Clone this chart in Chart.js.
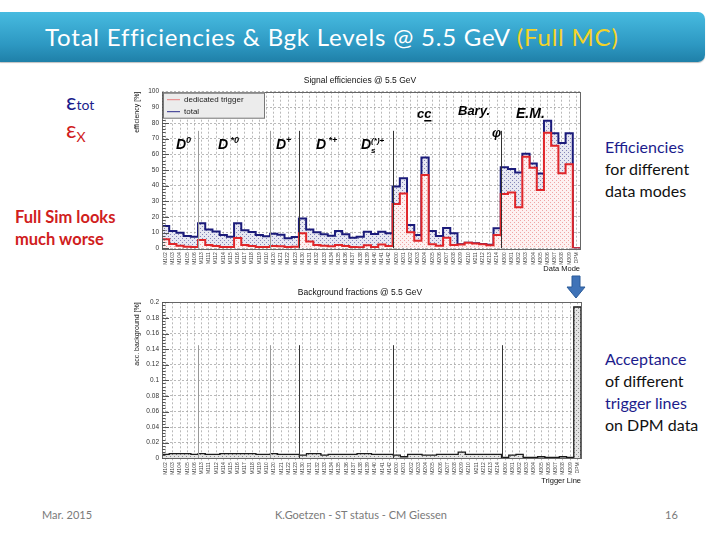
<!DOCTYPE html>
<html><head><meta charset="utf-8">
<script src="https://cdn.jsdelivr.net/npm/chart.js@4.4.0/dist/chart.umd.min.js"></script>
<style>
html,body{margin:0;padding:0;background:#fff;width:720px;height:540px;overflow:hidden;font-family:Lato,"Open Sans",sans-serif;}
.a{position:absolute;white-space:nowrap;}
#bar{left:0;top:12px;width:705px;height:50px;background:linear-gradient(#47bbe0,#2d98c2 65%,#1f80a8);border-radius:0 7px 7px 0;box-shadow:0 1px 1px rgba(0,0,0,0.25);}
#bar .t{position:absolute;left:45px;top:0;line-height:50px;font-size:24px;letter-spacing:0.8px;color:#fff;}
.navy{color:#1c1c8c;}
.red{color:#d0201c;}
.blk{color:#111;}
.side{font-size:16px;line-height:22px;}
.foot{font-size:11px;color:#7a7a7a;top:508px;}
canvas{position:absolute;}
</style></head>
<body>
<div id="bar" class="a"><span class="t">Total Efficiencies &amp; Bgk Levels @ 5.5 GeV <span style="color:#f5d327">(Full MC)</span></span></div>

<div class="a navy" style="left:66px;top:88px;font-size:23px;line-height:26px;">ε<span style="font-size:14px;">tot</span></div>
<div class="a red" style="left:66px;top:116px;font-size:23px;line-height:26px;">ε<span style="font-size:14px;position:relative;top:4px;">X</span></div>
<div class="a red" style="left:15px;top:206px;font-size:16.5px;line-height:22px;font-weight:bold;">Full Sim looks<br>much worse</div>

<div class="a side" style="left:605px;top:136px;"><span class="navy">Efficiencies</span><br><span class="blk">for different</span><br><span class="blk">data modes</span></div>
<div class="a side" style="left:605px;top:348px;"><span class="navy">Acceptance</span><br><span class="blk">of different</span><br><span class="navy">trigger lines</span><br><span class="blk">on DPM data</span></div>

<div class="a foot" style="left:42px;">Mar. 2015</div>
<div class="a foot" style="left:275px;">K.Goetzen - ST status - CM Giessen</div>
<div class="a foot" style="left:665px;">16</div>

<canvas id="c1" width="460" height="210" style="left:130px;top:70px"></canvas>
<canvas id="c2" width="460" height="210" style="left:130px;top:280px"></canvas>

<svg class="a" style="left:566px;top:275px;z-index:5" width="20" height="24" viewBox="0 0 20 24">
<path d="M6 1 H14 V12 H19 L10 23 L1 12 H6 Z" fill="#3f73b8" stroke="#2a5a98" stroke-width="1"/>
</svg>

<script>
// ---------- data ----------
const binLabels = ["M102","M103","M104","M105","M106",
"M113","M111","M112","M114","M115","M116","M117","M118","M119","M110",
"M120","M121","M122","M123",
"M130","M131","M132","M133","M134","M135","M136","M137","M138","M139","M140","M141","M142",
"M200","M201","M202","M203","M204","M205","M206","M207","M208","M209","M210","M211","M212","M213","M214",
"M300","M301","M302","M303","M304","M305","M306","M307","M308","M309","DPM"];

const sectionStarts = [5, 15, 19, 32, 47];

const totalEff = [14.3, 11, 10, 7.8, 7.4,
  16, 12, 10.8, 8.5, 7.4, 16, 11.5, 10.4, 8.5, 7.7,
  9.3, 8.7, 6.4, 7.2,
  19, 12, 10.2, 9, 8, 11, 9, 6.8, 7.4, 10.6, 9.2, 10.6, 9.6,
  39.4, 44.7, 14.9, 8.5, 58, 11, 7.9, 13, 9.6, 2.6, 3.6, 3.2, 2.8, 2.3, 12.8,
  51.7, 50.6, 48.4, 60.4, 54.2, 47.7, 81.4, 73.4, 67.2, 73.4, 0];

const triggerEff = [5.7, 2.8, 1.7, 1.0, 0.8,
  5.3, 2.1, 1.5, 0.9, 0.9, 6.5, 2.1, 1.5, 0.9, 0.9,
  1.5, 1.3, 0.9, 1.0,
  9.6, 4.3, 2.1, 1.7, 1.3, 2.1, 1.5, 0.9, 0.6, 1.9, 0.9, 2.5, 1.5,
  28.3, 35, 10.2, 4.9, 46.8, 2.6, 1.7, 6.8, 2.1, 2.5, 3.5, 3.0, 2.6, 2.0, 8.5,
  34.7, 35.7, 26.2, 58.5, 51.5, 37.2, 73.8, 65.5, 48, 53.6, 0];

const bkgFrac = [0.005, 0.006, 0.006, 0.006, 0.005,
  0.006, 0.005, 0.005, 0.006, 0.006, 0.006, 0.006, 0.006, 0.005, 0.005,
  0.006, 0.005, 0.005, 0.005,
  0.004, 0.006, 0.006, 0.004, 0.005, 0.005, 0.005, 0.005, 0.006, 0.006, 0.005, 0.005, 0.005,
  0.004, 0.002, 0.005, 0.005, 0.004, 0.004, 0.005, 0.005, 0.005, 0.008, 0.005, 0.005, 0.005, 0.005, 0.005,
  0.001, 0.004, 0.005, 0.001, 0.001, 0.002, 0.001, 0.001, 0.002, 0.001, 0.194];

// ---------- helpers ----------
function stepPoints(vals){
  const pts=[{x:0,y:0}];
  vals.forEach((v,i)=>pts.push({x:i,y:v}));
  pts.push({x:vals.length,y:vals[vals.length-1]});
  pts.push({x:vals.length,y:0});
  return pts;
}
function pattern(bg, dot){
  const c=document.createElement('canvas'); c.width=4; c.height=4;
  const g=c.getContext('2d'); g.fillStyle=bg; g.fillRect(0,0,4,4);
  g.fillStyle=dot; g.fillRect(0,0,1,1); g.fillRect(2,2,1,1);
  return g.createPattern(c,'repeat');
}
const ROOTFONT = '"Liberation Sans", Arial, sans-serif';

function drawRich(ctx, x, y, parts){
  let cx=x;
  parts.forEach(p=>{
    ctx.font = 'italic bold '+p[1]+'px '+ROOTFONT;
    ctx.fillText(p[0], cx, y+(p[2]||0));
    const w = ctx.measureText(p[0]).width;
    if(p[3]){ ctx.fillRect(cx, y+2, w, 1.5); }
    cx += (p[4]===false)?0:w;
  });
}

const decor = {
  id:'decor',
  afterDatasetsDraw(chart, args, o){
    const {ctx, chartArea:a, scales:{x,y}} = chart;
    ctx.save();
    sectionStarts.forEach((b,i)=>{
      const px = Math.round(x.getPixelForValue(b))+0.5;
      ctx.strokeStyle = i<2 ? '#9a9a9a' : '#333';
      ctx.lineWidth = 1;
      ctx.beginPath(); ctx.moveTo(px, y.getPixelForValue(0)); ctx.lineTo(px, y.getPixelForValue(o.sepTop)); ctx.stroke();
    });
    ctx.strokeStyle='#666'; ctx.lineWidth=1;
    ctx.strokeRect(Math.round(a.left)+0.5, Math.round(a.top)+0.5, Math.round(a.right-a.left), Math.round(a.bottom-a.top));
    ctx.strokeStyle='#555';
    const steps = Math.round((y.max-y.min)/o.minor);
    for(let k=0;k<=steps;k++){
      const v = y.min + k*o.minor;
      const py = Math.round(y.getPixelForValue(v))+0.5;
      const major = k % o.perMajor === 0;
      ctx.beginPath(); ctx.moveTo(a.left, py); ctx.lineTo(a.left + (major?7:3.5), py); ctx.stroke();
    }
    ctx.fillStyle='#111';
    ctx.font = '8.5px '+ROOTFONT; ctx.textAlign='center'; ctx.textBaseline='alphabetic';
    ctx.fillText(o.title, o.titleX, o.titleY);
    ctx.font = '7.5px '+ROOTFONT; ctx.textAlign='right';
    ctx.fillText(o.xTitle, a.right, o.xTitleY);
    ctx.save(); ctx.translate(o.yTitleX, a.top); ctx.rotate(-Math.PI/2);
    ctx.textAlign='right'; ctx.font='7px '+ROOTFONT; ctx.fillText(o.yTitle, 0, 0); ctx.restore();
    if(o.legend){
      ctx.fillStyle='#ececec'; ctx.fillRect(a.left+1, a.top+1, 102, 26);
      ctx.strokeStyle='#777'; ctx.strokeRect(a.left+1.5, a.top+1.5, 101, 25);
      const ds = chart.data.datasets;
      [[ds[0],8],[ds[1],20]].forEach(([d,dy])=>{
        ctx.strokeStyle=d.legendColor; ctx.lineWidth=1;
        ctx.beginPath(); ctx.moveTo(a.left+5, a.top+dy); ctx.lineTo(a.left+18, a.top+dy); ctx.stroke();
        ctx.fillStyle='#222'; ctx.font='8px '+ROOTFONT; ctx.textAlign='left'; ctx.textBaseline='middle';
        ctx.fillText(d.label, a.left+22, a.top+dy);
      });
      ctx.textBaseline='alphabetic';
    }
    if(o.annotate){
      ctx.fillStyle='#000'; ctx.textAlign='left';
      drawRich(ctx, 46, 79, [['D',14],['0',9,-6]]);
      drawRich(ctx, 88, 79, [['D',14],[' *0',9,-6]]);
      drawRich(ctx, 146, 79, [['D',14],['+',9,-6]]);
      drawRich(ctx, 186, 79, [['D',14],[' *+',9,-6]]);
      drawRich(ctx, 231, 79, [['D',14],['s',8,4,false,false],['(*)+',8,-6]]);
      drawRich(ctx, 287, 48, [['c',13],['c',13,0,true]]);
      drawRich(ctx, 328, 45, [['Bary.',13]]);
      drawRich(ctx, 362, 67, [['φ',13]]);
      drawRich(ctx, 386, 48, [['E.M.',14]]);
    }
    ctx.restore();
  }
};

function makeChart(id, datasets, yMin, yMax, yStep, padTop, padRight, opts){
  return new Chart(document.getElementById(id), {
    type:'line',
    data:{datasets},
    options:{
      responsive:false, animation:false, devicePixelRatio:1,
      layout:{padding:{top:padTop,right:padRight,left:0,bottom:0}},
      elements:{point:{radius:0}, line:{tension:0}},
      plugins:{legend:{display:false}, tooltip:{enabled:false}, decor:opts},
      scales:{
        x:{type:'linear', min:0, max:binLabels.length,
          afterBuildTicks:s=>{ s.ticks = binLabels.map((_,i)=>({value:i+0.5})); },
          afterFit:s=>{ s.height = 31.7; },
          ticks:{autoSkip:false, minRotation:90, maxRotation:90, padding:2,
            font:{size:5, family:ROOTFONT}, color:'#444',
            callback:(v,i)=>binLabels[i]},
          grid:{color:'#9c9c9c', lineWidth:0.7, tickLength:2, drawOnChartArea:true},
          border:{display:false, dash:[2,2]}
        },
        y:{min:yMin, max:yMax,
          afterFit:s=>{ s.width = 32; },
          ticks:{stepSize:yStep, padding:3, font:{size:6.5, family:ROOTFONT}, color:'#333',
            callback:v=>String(+v.toFixed(3))},
          grid:{color:'#9c9c9c', lineWidth:0.7, tickLength:0},
          border:{display:false, dash:[2,2]}
        }
      }
    },
    plugins:[decor]
  });
}

makeChart('c1', [
  {label:'dedicated trigger', data:stepPoints(triggerEff), stepped:'before',
   borderColor:'#e0262a', borderWidth:2, fill:'origin', legendColor:'#e88080',
   backgroundColor:pattern('#fdf1f1','#f0a4a4')},
  {label:'total', data:stepPoints(totalEff), stepped:'before',
   borderColor:'#1b1b7a', borderWidth:2, fill:'origin', legendColor:'#2a2a8a',
   backgroundColor:pattern('#e7e8f2','#8585b8')}
], 0, 100, 10, 21.7, 10, {
  title:'Signal efficiencies @ 5.5 GeV', titleX:230, titleY:13,
  xTitle:'Data Mode', xTitleY:201, yTitle:'efficiency [%]', yTitleX:9,
  sepTop:75, minor:2, perMajor:5, legend:true, annotate:true
});

makeChart('c2', [
  {label:'background', data:stepPoints(bkgFrac), stepped:'before',
   borderColor:'#1a1a1a', borderWidth:1.3, fill:'origin',
   backgroundColor:pattern('#e4e4e4','#8c8c8c')}
], 0, 0.2, 0.02, 22.3, 9, {
  title:'Background fractions @ 5.5 GeV', titleX:230, titleY:15,
  xTitle:'Trigger Line', xTitleY:203, yTitle:'acc. background [%]', yTitleX:9,
  sepTop:0.145, minor:0.004, perMajor:5, legend:false, annotate:false
});
</script>
</body></html>
